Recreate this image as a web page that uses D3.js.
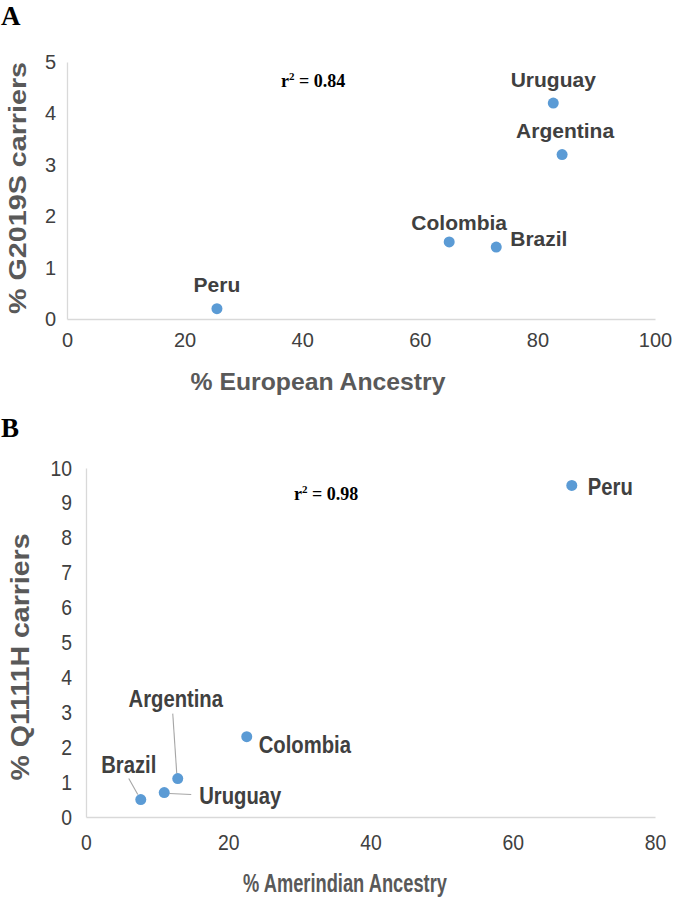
<!DOCTYPE html>
<html><head><meta charset="utf-8">
<script src="https://cdn.jsdelivr.net/npm/d3@7"></script>
<style>body{margin:0;background:#fff}svg{display:block}</style>
</head><body>
<script>
// Panel A data
const countriesA = ["Peru","Colombia","Brazil","Uruguay","Argentina"];
const europeanA = [25.5, 65, 73, 82.7, 84.2];
const g2019sA = [0.2, 1.5, 1.4, 4.2, 3.2];
const xTicksA = [0,20,40,60,80,100];
const yTicksA = [0,1,2,3,4,5];
// Panel B data
const countriesB = ["Peru","Colombia","Argentina","Uruguay","Brazil"];
const amerindianB = [68.3, 22.6, 12.9, 11.0, 7.7];
const q1111hB = [9.5, 2.3, 1.1, 0.7, 0.5];
const xTicksB = [0,20,40,60,80];
const yTicksB = [0,1,2,3,4,5,6,7,8,9,10];

const W=675,H=898;
const svg=d3.select("body").append("svg").attr("width",W).attr("height",H);
const dot="#5b9bd5", axisCol="#d9d9d9", lab="#404040", font="Liberation Sans, Arial, sans-serif";

function panel(o){
  const g=svg.append("g");
  const x=d3.scaleLinear().domain(o.xd).range([o.x0,o.x1]);
  const y=d3.scaleLinear().domain(o.yd).range([o.y0,o.y1]);
  const xa=g.append("g").attr("transform",`translate(0,${o.y0})`).call(d3.axisBottom(x).tickValues(o.xt).tickFormat(d3.format("d")).tickSize(0).tickPadding(o.xpad));
  const ya=g.append("g").attr("transform",`translate(${o.x0},0)`).call(d3.axisLeft(y).tickValues(o.yt).tickFormat(d3.format("d")).tickSize(0).tickPadding(o.ypad));
  [xa,ya].forEach(a=>{a.select(".domain").attr("stroke",axisCol).attr("stroke-width",1.3);
    a.selectAll("text").attr("font-family",font).attr("font-size",o.tickSize).attr("fill","#404040")
     .attr("transform",`scale(${o.sx},1)`);});
  // axis titles (stretched to reference extents)
  g.append("text").attr("x",o.xTitle.cx).attr("y",o.xTitle.cy).attr("text-anchor","middle").attr("dominant-baseline","central")
    .attr("font-family",font).attr("font-weight","bold").attr("font-size",o.titleSize).attr("fill","#595959")
    .attr("textLength",o.xTitle.len).attr("lengthAdjust","spacingAndGlyphs").text(o.xTitle.t);
  g.append("text").attr("transform",`translate(${o.yTitle.cx},${o.yTitle.cy}) rotate(-90)`).attr("text-anchor","middle").attr("dominant-baseline","central")
    .attr("font-family",font).attr("font-weight","bold").attr("font-size",o.titleSize).attr("fill","#595959")
    .attr("textLength",o.yTitle.len).attr("lengthAdjust","spacingAndGlyphs").text(o.yTitle.t);
  // leader lines
  o.names.forEach((n,i)=>{const L=o.labels[n]; if(L.line){
    const px=x(o.xs[i]), py=y(o.ys[i]);
    g.append("path").attr("d",`M${px+L.line[0]},${py+L.line[1]} L${px+L.line[2]},${py+L.line[3]}`)
     .attr("stroke","#a6a6a6").attr("fill","none").attr("stroke-width",1.1);}});
  g.selectAll("circle").data(o.names).join("circle")
    .attr("cx",(d,i)=>x(o.xs[i])).attr("cy",(d,i)=>y(o.ys[i])).attr("r",5.5).attr("fill",dot);
  g.selectAll("text.lbl").data(o.names).join("text").attr("class","lbl")
    .attr("transform",(d,i)=>`translate(${x(o.xs[i])+o.labels[d].dx},${y(o.ys[i])+o.labels[d].dy}) scale(${o.sx},1)`)
    .attr("text-anchor",d=>o.labels[d].a).attr("dominant-baseline","central")
    .attr("font-family",font).attr("font-weight","bold").attr("font-size",o.labelSize).attr("fill",lab).text(d=>d);
  g.append("text").attr("x",o.panelXY[0]).attr("y",o.panelXY[1]).attr("font-family","Liberation Serif").attr("font-weight","bold").attr("font-size",27).text(o.panel);
  const r=g.append("text").attr("x",o.rXY[0]).attr("y",o.rXY[1]).attr("font-family","Liberation Serif").attr("font-weight","bold").attr("font-size",18);
  r.append("tspan").text("r");
  r.append("tspan").attr("dy",-7).attr("font-size",11).text("2");
  r.append("tspan").attr("dy",7).text(" = "+o.r2);
}

panel({names:countriesA,xs:europeanA,ys:g2019sA,xd:[0,100],yd:[0,5],xt:xTicksA,yt:yTicksA,
  x0:67,x1:655,y0:319,y1:62,xpad:14,ypad:11,sx:1,tickSize:20,titleSize:24,labelSize:21,
  xTitle:{t:"% European Ancestry",cx:318,cy:381,len:255},
  yTitle:{t:"% G2019S carriers",cx:17,cy:188,len:252},
  labels:{Peru:{dx:0,dy:-24,a:"middle"},Colombia:{dx:10,dy:-19,a:"middle"},Brazil:{dx:14,dy:-9,a:"start"},
          Uruguay:{dx:0,dy:-24,a:"middle"},Argentina:{dx:3,dy:-24,a:"middle"}},
  panel:"A",panelXY:[1,25],rXY:[281,87],r2:"0.84"});

panel({names:countriesB,xs:amerindianB,ys:q1111hB,xd:[0,80],yd:[0,10],xt:xTicksB,yt:yTicksB,
  x0:86,x1:655,y0:817,y1:468,xpad:17,ypad:16,sx:0.88,tickSize:22,titleSize:25,labelSize:23,
  xTitle:{t:"% Amerindian Ancestry",cx:345,cy:883,len:204},
  yTitle:{t:"% Q1111H carriers",cx:20,cy:657,len:247},
  labels:{Peru:{dx:16,dy:2,a:"start"},Colombia:{dx:12,dy:8,a:"start"},
          Argentina:{dx:-2,dy:-80,a:"middle",line:[-1,-5,-5,-65]},
          Uruguay:{dx:35,dy:3,a:"start",line:[5,1,27,2]},
          Brazil:{dx:-12,dy:-35,a:"middle",line:[-3,-5,-12,-21]}},
  panel:"B",panelXY:[1,437],rXY:[294,500],r2:"0.98"});
</script>
</body></html>
